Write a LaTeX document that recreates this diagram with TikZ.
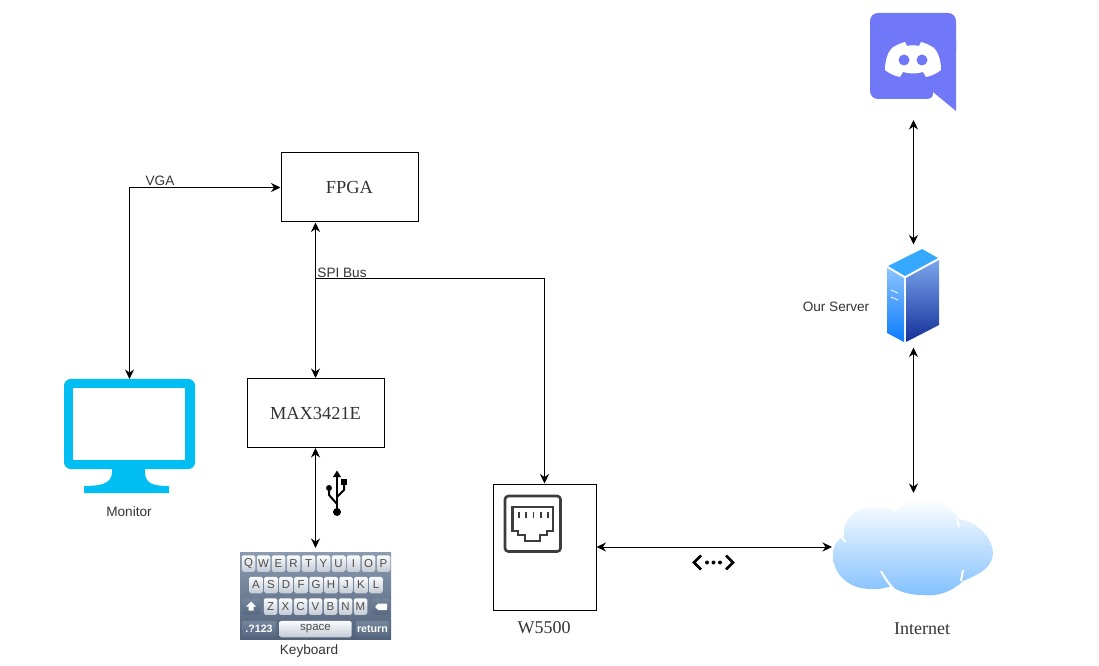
\documentclass[tikz,border=0pt]{standalone}
\usepackage{fontspec}
\setmainfont{Liberation Serif}
\setsansfont{Liberation Sans}
\usetikzlibrary{arrows.meta}
\newcommand{\px}{0.75pt}
\definecolor{labelgray}{HTML}{333333}
\definecolor{monitorblue}{HTML}{00BEF2}
\definecolor{discordblue}{HTML}{7078F8}
\definecolor{portgray}{HTML}{3C3C3C}
\definecolor{kbdtop}{HTML}{8B9BB0}
\definecolor{kbdbottom}{HTML}{51627A}
\definecolor{captop}{HTML}{FBFCFD}
\definecolor{capbottom}{HTML}{C3CBD5}
\definecolor{darkcaptop}{HTML}{74869C}
\definecolor{darkcapbottom}{HTML}{566880}
\definecolor{servertop}{HTML}{36A9FF}
\definecolor{serverlefttop}{HTML}{8CC4FF}
\definecolor{serverleftbottom}{HTML}{0A7BFF}
\definecolor{serverrighttop}{HTML}{7BA6EC}
\definecolor{serverrightbottom}{HTML}{14309A}
\tikzset{
  chipbox/.style={draw=black,line width=\px,minimum width=137*\px,minimum height=69*\px,inner sep=0pt,font=\fontsize{13.8pt}{15pt}\selectfont,text=labelgray},
  iconbox/.style={inner sep=0pt,outer sep=0pt},
  conn/.style={line width=\px,black},
  serifnote/.style={font=\fontsize{13.5pt}{15pt}\selectfont,text=labelgray,inner sep=0pt},
  sansnote/.style={font=\sffamily\fontsize{10.2pt}{12pt}\selectfont,text=labelgray,inner sep=0pt},
  keycap/.style={rounded corners=1.2pt,inner sep=0pt,minimum height=16.5*\px,minimum width=13.5*\px,top color=captop,bottom color=capbottom,text=black!70,font=\sffamily\fontsize{8.6pt}{9pt}\selectfont},
  darkcap/.style={rounded corners=1.2pt,inner sep=0pt,minimum height=16.5*\px,top color=darkcaptop,bottom color=darkcapbottom,text=white,font=\sffamily\bfseries\fontsize{8pt}{9pt}\selectfont},
}
\begin{document}
\begin{tikzpicture}[x=\px,y=-\px,>={Stealth[length=9.5*\px,width=9*\px]}]
\useasboundingbox (0,0) rectangle (1099,666);

% boxes
\node[chipbox] (fpga) at (349.5,187.5) {FPGA};
\node[chipbox] (max) at (315.5,413) {MAX3421E};
\node[draw=black,line width=\px,minimum width=103*\px,minimum height=126*\px,inner sep=0pt] (w5500) at (544.5,547) {};
\node[serifnote] (w5500label) at (544,628) {W5500};

% icon places
\node[iconbox,minimum width=131*\px,minimum height=115*\px] (monitor) at (129.5,436.5) {};
\node[iconbox,minimum width=151*\px,minimum height=87*\px,outer ysep=4*\px] (keyboard) at (315.5,595.5) {};
\node[iconbox,minimum width=160*\px,minimum height=100*\px,outer ysep=4*\px,outer xsep=\px] (cloud) at (913,547) {};
\node[iconbox,minimum width=53*\px,minimum height=95*\px,outer ysep=4*\px] (server) at (913.5,296) {};
\node[iconbox,minimum width=87*\px,minimum height=98*\px,outer ysep=9*\px] (discord) at (913.5,62) {};

% monitor
\fill[monitorblue,rounded corners=5pt] (64,379) rectangle (195,469);
\fill[white] (73,388) rectangle (185,460);
\fill[monitorblue] (112,465) -- (112,472) .. controls (112,484) and (100,486) .. (84,486) -- (84,493) -- (169,493) -- (169,486) .. controls (154,486) and (145,484) .. (145,472) -- (145,465) -- cycle;
\node[sansnote] (monitorlabel) at (129,512) {Monitor};

% keyboard
\shade[top color=kbdtop,bottom color=kbdbottom] (240,552) rectangle (391,639);
\foreach \k [count=\i] in {Q,W,E,R,T,Y,U,I,O,P}
  \node[keycap] (keya\i) at ({233.5+15*\i},563.5) {\k};
\foreach \k [count=\i] in {A,S,D,F,G,H,J,K,L}
  \node[keycap] (keyb\i) at ({241+15*\i},585) {\k};
\foreach \k [count=\i] in {Z,X,C,V,B,N,M}
  \node[keycap] (keyc\i) at ({255.5+15*\i},606.5) {\k};
\node[darkcap,minimum width=18*\px] (keyshift) at (251,606.5) {};
\fill[white] (251,601.5) -- (256,606.5) -- (253.5,606.5) -- (253.5,610.5) -- (248.5,610.5) -- (248.5,606.5) -- (246,606.5) -- cycle;
\node[darkcap,minimum width=17*\px] (keyback) at (381,606.5) {};
\fill[white,rounded corners=0.5pt] (375,607) -- (378,603.5) -- (387,603.5) -- (387,610) -- (378,610) -- cycle;
\node[darkcap,minimum width=34*\px] (keynum) at (259,629) {.?123};
\node[keycap,minimum width=72*\px] (keyspace) at (315.5,629) {space};
\node[darkcap,minimum width=33*\px] (keyreturn) at (372.5,629) {return};
\node[sansnote] (keyboardlabel) at (309,651) {Keyboard};

% usb
\fill[black] (337,512) circle[radius=4];
\draw[line width=2*\px,black] (337,512) -- (337,476);
\fill[black] (337,470.5) -- (341,477) -- (333,477) -- cycle;
\draw[line width=2*\px,black] (337,504) -- (329,495) -- (329,488);
\fill[black] (329,488) circle[radius=3];
\draw[line width=2*\px,black] (337,497) -- (344,490) -- (344,482);
\fill[black] (341,479) rectangle (347,485);

% rj45 port
\draw[portgray,line width=2.6*\px,rounded corners=2.5pt] (505,496) rectangle (560.5,551.5);
\draw[portgray,line width=2.6*\px] (512.5,507) -- (553,507) -- (553,531) -- (547,531) -- (547,535) -- (540,535) -- (540,541) -- (525,541) -- (525,535) -- (518,535) -- (518,531) -- (512.5,531) -- cycle;
\foreach \i in {0,1,2,3,4}
  \draw[portgray,line width=1.8*\px] ({519+7.2*\i},512) -- ({519+7.2*\i},518);

% dotted link sign
\draw[black,line width=2.6*\px] (701,555.5) -- (694,562.5) -- (701,569.5);
\draw[black,line width=2.6*\px] (726,555.5) -- (733,562.5) -- (726,569.5);
\foreach \i in {0,1,2}
  \fill[black] ({707+6.5*\i},562.5) circle[radius=2];

% cloud
\shade[top color=white,bottom color=blue!50!cyan!50] (833,555) .. controls (833,545) and (838,539) .. (844,536) .. controls (842,518) and (860,505) .. (875,507) .. controls (884,507) and (891,509) .. (896,511) .. controls (905,502) and (915,498) .. (924,499) .. controls (942,500) and (955,510) .. (959,519) .. controls (978,522) and (992,538) .. (993,552) .. controls (993,565) and (985,572) .. (963,581) .. controls (953,591) and (938,597) .. (923,595) .. controls (908,595) and (898,591) .. (891,586) .. controls (882,590) and (868,590) .. (857,587) .. controls (842,582) and (833,570) .. (833,555) -- cycle;
\draw[white,line width=2*\px] (841,537) -- (846,542);
\draw[white,line width=2*\px] (889,507) -- (896,511);
\draw[white,line width=2*\px] (957,519) -- (959,527);
\draw[white,line width=2*\px] (881,571) .. controls (885,578) and (888,583) .. (893,588);
\draw[white,line width=2*\px] (963,570) -- (961,581);
\node[serifnote] (cloudlabel) at (922,629) {Internet};

% server
\fill[servertop] (922,249) -- (938,258) -- (905,276) -- (888,266) -- cycle;
\shade[top color=serverlefttop,bottom color=serverleftbottom] (887,268) -- (904,278) -- (904,342) -- (887,333) -- cycle;
\shade[top color=serverrighttop,bottom color=serverrightbottom] (906,278) -- (939,260) -- (939,325) -- (906,342) -- cycle;
\draw[white,line width=0.8*\px] (891,290) -- (898,293);
\draw[white,line width=0.8*\px] (891,297) -- (898,300);
\node[sansnote] (serverlabel) at (836,307) {Our Server};

% discord
\fill[discordblue,rounded corners=6pt] (870,13) -- (956,13) -- (956,60) -- (870,60) -- cycle;
\fill[discordblue,rounded corners=6pt] (870,40) -- (870,99) -- (935,99) [sharp corners] -- (933,92) -- (956,111) -- (956,40) -- cycle;
\fill[white] (885,70) .. controls (885,60) and (888,52) .. (892,48) .. controls (896,45) and (901,43) .. (905,42) -- (907,46) .. controls (911,45) and (915,45) .. (919,46) -- (921,42) .. controls (925,43) and (930,45) .. (934,48) .. controls (938,52) and (941,60) .. (941,70) .. controls (936,74) and (931,76) .. (926,77) -- (923,72) .. controls (916,74) and (910,74) .. (903,72) -- (900,77) .. controls (895,76) and (890,74) .. (885,70) -- cycle;
\fill[discordblue] (904,60) circle[radius=5.5];
\fill[discordblue] (922,60) circle[radius=5.5];

% connectors
\draw[conn,<->] (fpga.west) -| (monitor.north);
\node[sansnote] (vgalabel) at (160,181) {VGA};
\draw[conn,<->] (max.north |- fpga.south) -- (max.north);
\coordinate (spijoin) at (315.5,279);
\draw[conn,->] (spijoin) -| (w5500.north);
\node[sansnote] (spilabel) at (342,273) {SPI Bus};
\draw[conn,<->] (max.south) -- (keyboard.north);
\draw[conn,<->] (w5500.east) -- (cloud.west);
\draw[conn,<->] (cloud.north -| server.south) -- (server.south);
\draw[conn,<->] (server.north) -- (discord.south);

\end{tikzpicture}
\end{document}
